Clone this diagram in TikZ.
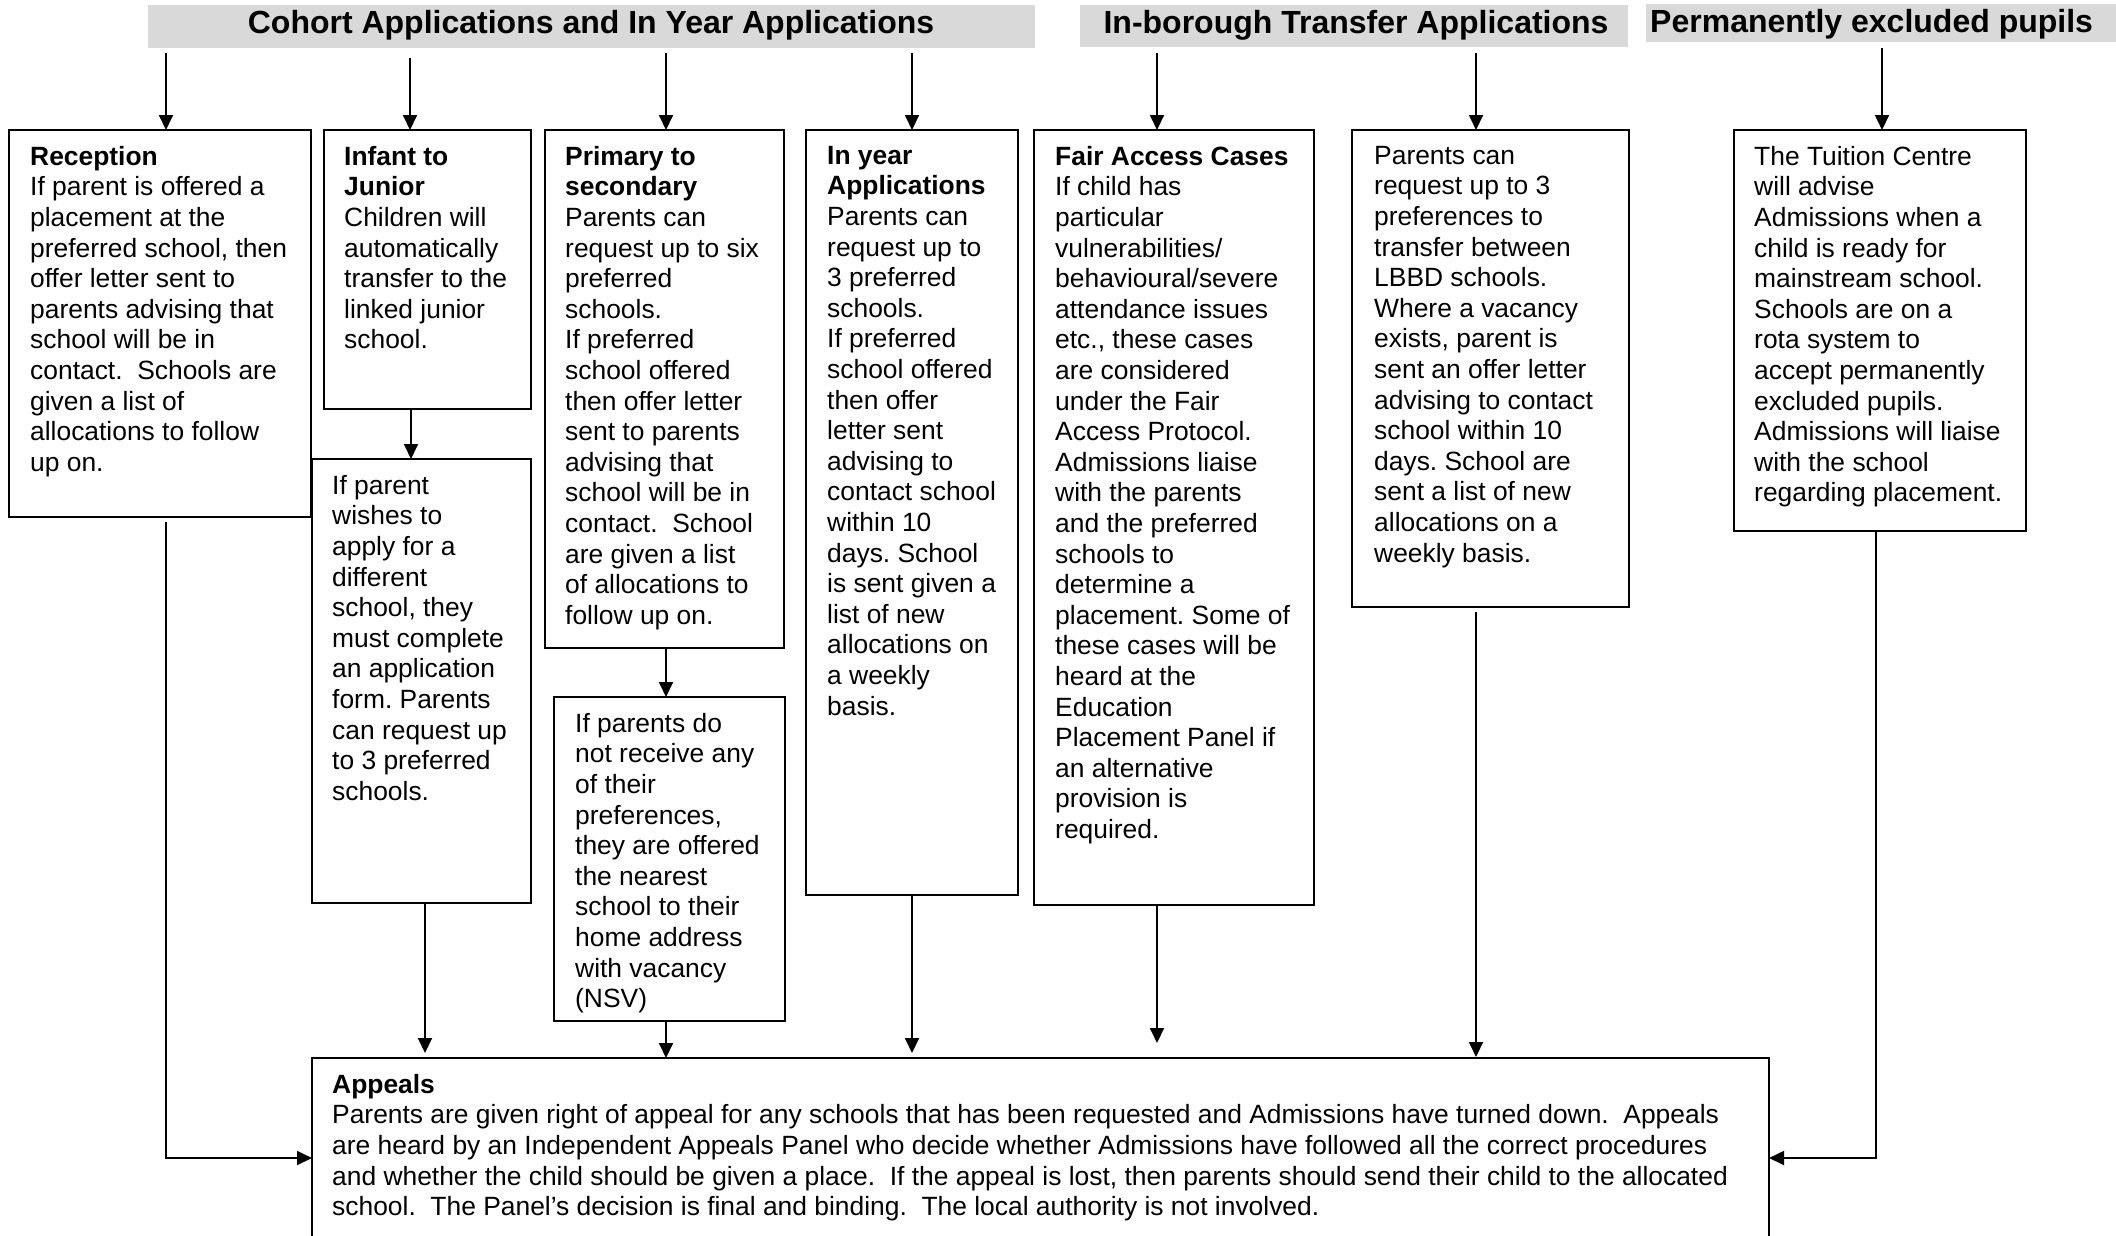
\documentclass[tikz,border=0pt]{standalone}
\usepackage{fontspec}
\setmainfont{Liberation Sans}
\usetikzlibrary{arrows.meta,calc}
\definecolor{hgray}{RGB}{217,217,217}
\begin{document}
\frenchspacing
\begin{tikzpicture}[x=1pt,y=-1pt,
 box/.style={draw, line width=2.4pt, anchor=north west, inner sep=0pt, outer sep=0pt},
 txt/.style={anchor=north west, align=left, inner sep=0pt, font=\fontsize{26.4}{30.6}\selectfont\frenchspacing},
 hbar/.style={fill=hgray, anchor=north west, inner sep=0pt, outer sep=0pt},
 htxt/.style={inner sep=0pt, font=\fontsize{32}{38}\selectfont\bfseries},
 arr/.style={line width=1.8pt, -{Triangle[length=15pt,width=14pt]}},
 ln/.style={line width=1.8pt}]
\useasboundingbox (0,0) rectangle (2116,1235);
\clip (0,0) rectangle (2116,1235);

% headers
\node[hbar, minimum width=887pt, minimum height=43pt] (h1) at (148,5) {};
\node[htxt, anchor=base] (h1t) at (591,33) {Cohort Applications and In Year Applications};
\node[hbar, minimum width=548pt, minimum height=42pt] (h2) at (1080,5) {};
\node[htxt, anchor=base] (h2t) at (1356,33) {In-borough Transfer Applications};
\node[hbar, minimum width=470pt, minimum height=38pt] (h3) at (1646,4) {};
\node[htxt, anchor=base west] (h3t) at (1650,32) {Permanently excluded pupils};

% boxes
\node[box, minimum width=302pt, minimum height=387pt] (rec) at (9,130) {};
\node[box, minimum width=207pt, minimum height=279pt] (inf) at (324,130) {};
\node[box, minimum width=219pt, minimum height=444pt] (inflo) at (312,459) {};
\node[box, minimum width=239pt, minimum height=518pt] (pri) at (545,130) {};
\node[box, minimum width=231pt, minimum height=324pt] (nsv) at (554,697) {};
\node[box, minimum width=212pt, minimum height=765pt] (iny) at (806,130) {};
\node[box, minimum width=280pt, minimum height=775pt] (fair) at (1034,130) {};
\node[box, minimum width=277pt, minimum height=477pt] (tra) at (1352,130) {};
\node[box, minimum width=292pt, minimum height=401pt] (tui) at (1734,130) {};
\node[box, minimum width=1457pt, minimum height=200pt] (app) at (312,1058) {};

% texts
\node[txt] (rect) at (30,146) {\textbf{Reception}\\If parent is offered a\\placement at the\\preferred school, then\\offer letter sent to\\parents advising that\\school will be in\\contact.\ \ Schools are\\given a list of\\allocations to follow\\up on.};
\node[txt] (inft) at (344,146) {\textbf{Infant to}\\\textbf{Junior}\\Children will\\automatically\\transfer to the\\linked junior\\school.};
\node[txt] (inflot) at (332,475) {If parent\\wishes to\\apply for a\\different\\school, they\\must complete\\an application\\form. Parents\\can request up\\to 3 preferred\\schools.};
\node[txt] (prit) at (565,146) {\textbf{Primary to}\\\textbf{secondary}\\Parents can\\request up to six\\preferred\\schools.\\If preferred\\school offered\\then offer letter\\sent to parents\\advising that\\school will be in\\contact.\ \ School\\are given a list\\of allocations to\\follow up on.};
\node[txt] (nsvt) at (575,713) {If parents do\\not receive any\\of their\\preferences,\\they are offered\\the nearest\\school to their\\home address\\with vacancy\\(NSV)};
\node[txt] (inyt) at (827,146) {\textbf{In year}\\\textbf{Applications}\\Parents can\\request up to\\3 preferred\\schools.\\If preferred\\school offered\\then offer\\letter sent\\advising to\\contact school\\within 10\\days. School\\is sent given a\\list of new\\allocations on\\a weekly\\basis.};
\node[txt] (fairt) at (1055,146) {\textbf{Fair Access Cases}\\If child has\\particular\\vulnerabilities/\\behavioural/severe\\attendance issues\\etc., these cases\\are considered\\under the Fair\\Access Protocol.\\Admissions liaise\\with the parents\\and the preferred\\schools to\\determine a\\placement. Some of\\these cases will be\\heard at the\\Education\\Placement Panel if\\an alternative\\provision is\\required.};
\node[txt] (trat) at (1374,146) {Parents can\\request up to 3\\preferences to\\transfer between\\LBBD schools.\\Where a vacancy\\exists, parent is\\sent an offer letter\\advising to contact\\school within 10\\days. School are\\sent a list of new\\allocations on a\\weekly basis.};
\node[txt] (tuit) at (1754,146) {The Tuition Centre\\will advise\\Admissions when a\\child is ready for\\mainstream school.\\Schools are on a\\rota system to\\accept permanently\\excluded pupils.\\Admissions will liaise\\with the school\\regarding placement.};
\node[txt] (appt) at (332,1074) {\textbf{Appeals}\\Parents are given right of appeal for any schools that has been requested and Admissions have turned down.\ \ Appeals\\are heard by an Independent Appeals Panel who decide whether Admissions have followed all the correct procedures\\and whether the child should be given a place.\ \ If the appeal is lost, then parents should send their child to the allocated\\school.\ \ The Panel’s decision is final and binding.\ \ The local authority is not involved.};

% x positions of connectors
\coordinate (xrec) at (166,0);
\coordinate (xinf) at (410,0);
\coordinate (xinf2) at (411,0);
\coordinate (xinflo) at (425,0);
\coordinate (xpri) at (666,0);
\coordinate (xiny) at (912,0);
\coordinate (xfair) at (1157,0);
\coordinate (xtra) at (1476,0);
\coordinate (xtui) at (1882,0);
\coordinate (xtui2) at (1876,0);

% header arrows
\draw[arr, shorten <=5pt] (h1.south -| xrec) -- (rec.north -| xrec);
\draw[arr, shorten <=10pt] (h1.south -| xinf) -- (inf.north -| xinf);
\draw[arr, shorten <=5pt] (h1.south -| xpri) -- (pri.north -| xpri);
\draw[arr, shorten <=5pt] (h1.south -| xiny) -- (iny.north -| xiny);
\draw[arr, shorten <=6pt] (h2.south -| xfair) -- (fair.north -| xfair);
\draw[arr, shorten <=6pt] (h2.south -| xtra) -- (tra.north -| xtra);
\draw[arr, shorten <=6pt] (h3.south -| xtui) -- (tui.north -| xtui);

% inner arrows
\draw[arr] (inf.south -| xinf2) -- (inflo.north -| xinf2);
\draw[arr] (pri.south -| xpri) -- (nsv.north -| xpri);

% to appeals
\draw[arr, shorten <=5pt] (rec.south -| xrec) |- (app.west);
\draw[arr, shorten >=5pt] (inflo.south -| xinflo) -- (app.north -| xinflo);
\draw[arr] (nsv.south -| xpri) -- (app.north -| xpri);
\draw[arr, shorten >=5pt] (iny.south -| xiny) -- (app.north -| xiny);
\draw[arr, shorten >=15pt] (fair.south -| xfair) -- (app.north -| xfair);
\draw[arr, shorten <=5pt, shorten >=1pt] (tra.south -| xtra) -- (app.north -| xtra);
\draw[arr] (tui.south -| xtui2) |- (app.east);
\end{tikzpicture}
\end{document}
